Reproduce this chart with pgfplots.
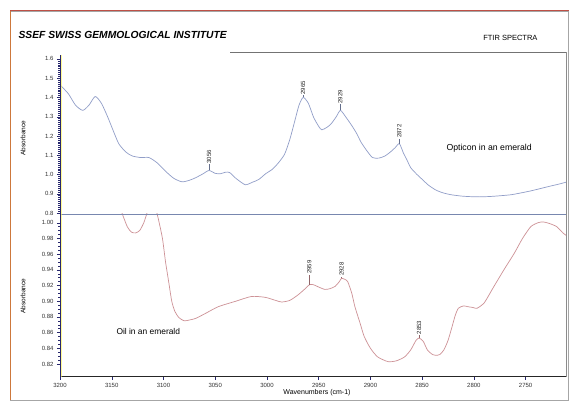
\documentclass[border=0pt]{standalone}
\usepackage{pgfplots}
\pgfplotsset{compat=1.18}
\usepackage{fontspec}
\setmainfont{Liberation Sans}

\definecolor{axisnavy}{RGB}{40,40,110}
\definecolor{optcol}{RGB}{145,158,200}
\definecolor{oilcol}{RGB}{205,145,150}
\definecolor{divcol}{RGB}{120,135,175}
\definecolor{frameor}{RGB}{205,120,60}
\definecolor{framered}{RGB}{190,80,70}

% Opticon in an emerald (upper trace)
\pgfplotstableread{
wn abs
3200 1.465
3192 1.420
3185 1.360
3178 1.333
3172 1.360
3166 1.405
3160 1.370
3154 1.300
3148 1.220
3143 1.158
3136 1.115
3130 1.096
3122 1.088
3114 1.088
3106 1.060
3098 1.017
3090 0.980
3082 0.962
3075 0.970
3069 0.983
3062 1.003
3056 1.021
3050 1.006
3045 1.004
3040 1.012
3036 1.010
3030 0.980
3021 0.947
3014 0.960
3008 0.974
3001 1.005
2995 1.026
2989 1.060
2983 1.105
2978 1.180
2973 1.280
2969 1.360
2965 1.400
2960 1.370
2955 1.298
2950 1.250
2947 1.232
2942 1.245
2938 1.263
2933 1.300
2929 1.333
2924 1.300
2918 1.254
2913 1.210
2909 1.167
2903 1.120
2898 1.088
2892 1.085
2886 1.096
2880 1.120
2876 1.140
2872 1.160
2868 1.110
2865 1.079
2861 1.035
2855 1.000
2850 0.975
2844 0.945
2837 0.920
2830 0.905
2822 0.895
2812 0.888
2803 0.885
2794 0.884
2784 0.886
2774 0.890
2764 0.895
2754 0.905
2745 0.915
2735 0.928
2726 0.940
2718 0.950
2711 0.960
}\opticon

% Oil in an emerald (lower trace)
\pgfplotstableread{
wn abs
3200 1.030
3145 1.030
3140 1.012
3135 0.995
3131 0.988
3127 0.987
3123 0.990
3119 1.000
3116 1.012
3112 1.030
3108 1.020
3105 1.005
3101 0.980
3098 0.950
3095 0.925
3092 0.900
3089 0.887
3085 0.879
3080 0.875
3075 0.876
3069 0.878
3060 0.884
3047 0.893
3030 0.900
3015 0.906
3002 0.905
2994 0.902
2986 0.899
2978 0.901
2970 0.908
2963 0.916
2959 0.921
2955 0.921
2950 0.918
2944 0.915
2939 0.916
2934 0.919
2930 0.925
2928 0.929
2925 0.928
2922 0.925
2918 0.910
2915 0.893
2910 0.872
2906 0.855
2900 0.840
2893 0.829
2883 0.823
2875 0.824
2867 0.829
2861 0.838
2856 0.850
2853 0.853
2849 0.849
2845 0.838
2840 0.832
2837 0.831
2833 0.832
2829 0.838
2825 0.850
2821 0.868
2818 0.882
2815 0.891
2810 0.894
2806 0.893
2801 0.892
2797 0.891
2790 0.898
2781 0.918
2771 0.940
2761 0.961
2753 0.980
2745 0.995
2738 1.000
2733 1.001
2727 0.999
2720 0.995
2714 0.987
2711 0.984
}\oil

\tikzset{
  peak/.style={font=\fontsize{6}{7}\selectfont, rotate=90, anchor=west, inner sep=0.8pt, text=black!85},
}
\pgfplotsset{
  spec/.style={
    scale only axis, width=506pt,
    xmin=2711, xmax=3200, x dir=reverse,
    axis line style={draw=none},
    tick align=outside,
    ytick pos=left,
    major tick length=3pt, minor tick length=1.5pt,
    every tick/.style={axisnavy, line width=0.4pt},
    tick label style={font=\fontsize{6}{7}\selectfont, text=black!80},
    /pgf/number format/assume math mode=true,
    /pgf/number format/set thousands separator={},
  },
}

\begin{document}
\begin{tikzpicture}
\begin{scope}[x=1pt,y=1pt]
\useasboundingbox (0,0) rectangle (570,409);
\fill[white] (0,0) rectangle (570,409);
% sheet frame
\draw[black!35, line width=0.6pt] (10.5,9) rectangle (568.5,398);
\draw[frameor, line width=1.3pt] (10.5,9) -- (10.5,398);
\draw[framered, line width=1pt] (10,398) -- (568.5,398);
\node[anchor=west, font=\fontsize{10.3}{12}\selectfont\bfseries\itshape] at (15,374) {SSEF SWISS GEMMOLOGICAL INSTITUTE};
\node[anchor=east, font=\fontsize{7.5}{9}\selectfont] at (541,371) {FTIR SPECTRA};
\end{scope}

% upper spectrum
\begin{axis}[spec, at={(60pt,195pt)}, anchor=south west, height=162pt,
  ymin=0.795, ymax=1.636,
  ytick={0.8,0.9,...,1.6}, minor y tick num=9,
  xtick=\empty,
  yticklabel style={/pgf/number format/.cd, fixed, precision=1, fixed zerofill},
]
\addplot[optcol, line width=0.7pt, smooth, tension=0.4] table[x=wn, y=abs] {\opticon};
\draw[optcol!70!black, line width=0.4pt] (axis cs:3056,1.021) -- ++(0pt,6pt) node[peak] {3056};
\draw[optcol!70!black, line width=0.4pt] (axis cs:2965,1.400) -- ++(0pt,2pt) node[peak] {2965};
\draw[optcol!70!black, line width=0.4pt] (axis cs:2929,1.333) -- ++(0pt,6pt) node[peak] {2929};
\draw[optcol!70!black, line width=0.4pt] (axis cs:2872,1.160) -- ++(0pt,5pt) node[peak] {2872};
\end{axis}

% lower spectrum
\begin{axis}[spec, at={(60pt,32pt)}, anchor=south west, height=163pt,
  ymin=0.8034, ymax=1.0111,
  ytick={0.82,0.84,...,1.001}, minor y tick num=3,
  xtick={2750,2800,...,3200}, xtick pos=bottom,
  yticklabel style={/pgf/number format/.cd, fixed, precision=2, fixed zerofill},
]
\addplot[oilcol, line width=0.7pt, smooth, tension=0.4] table[x=wn, y=abs] {\oil};
\draw[oilcol!70!black, line width=0.4pt] (axis cs:2959,0.921) -- ++(0pt,10pt) node[peak] {2959};
\draw[oilcol!70!black, line width=0.4pt] (axis cs:2928,0.929) -- ++(0pt,1.5pt) node[peak] {2928};
\draw[oilcol!70!black, line width=0.4pt] (axis cs:2853,0.853) -- ++(0pt,3pt) node[peak] {2853};
\end{axis}

\begin{scope}[x=1pt,y=1pt]
% axis frame lines
\draw[black!45, line width=0.5pt] (566,32) -- (566,357);
\draw[black!55, line width=0.6pt] (230,357) -- (566,357);
\draw[divcol, line width=0.8pt] (60,195) -- (566,195);
\draw[black!85, line width=1pt] (60,32) -- (566,32);
\draw[yellow!70, line width=0.9pt, opacity=0.6] (61.4,32) -- (61.4,354);
\draw[axisnavy, line width=1pt] (60,32) -- (60,354);
% texts
\node[rotate=90, font=\fontsize{6.5}{8}\selectfont] at (23,271) {Absorbance};
\node[rotate=90, font=\fontsize{6.5}{8}\selectfont] at (23,113) {Absorbance};
\node[font=\fontsize{7}{8}\selectfont] at (317,16) {Wavenumbers (cm-1)};
\node[anchor=west, font=\fontsize{8.7}{10}\selectfont] at (443,261) {Opticon in an emerald};
\node[anchor=west, font=\fontsize{8.4}{10}\selectfont] at (113,77) {Oil in an emerald};
\end{scope}
\end{tikzpicture}
\end{document}
